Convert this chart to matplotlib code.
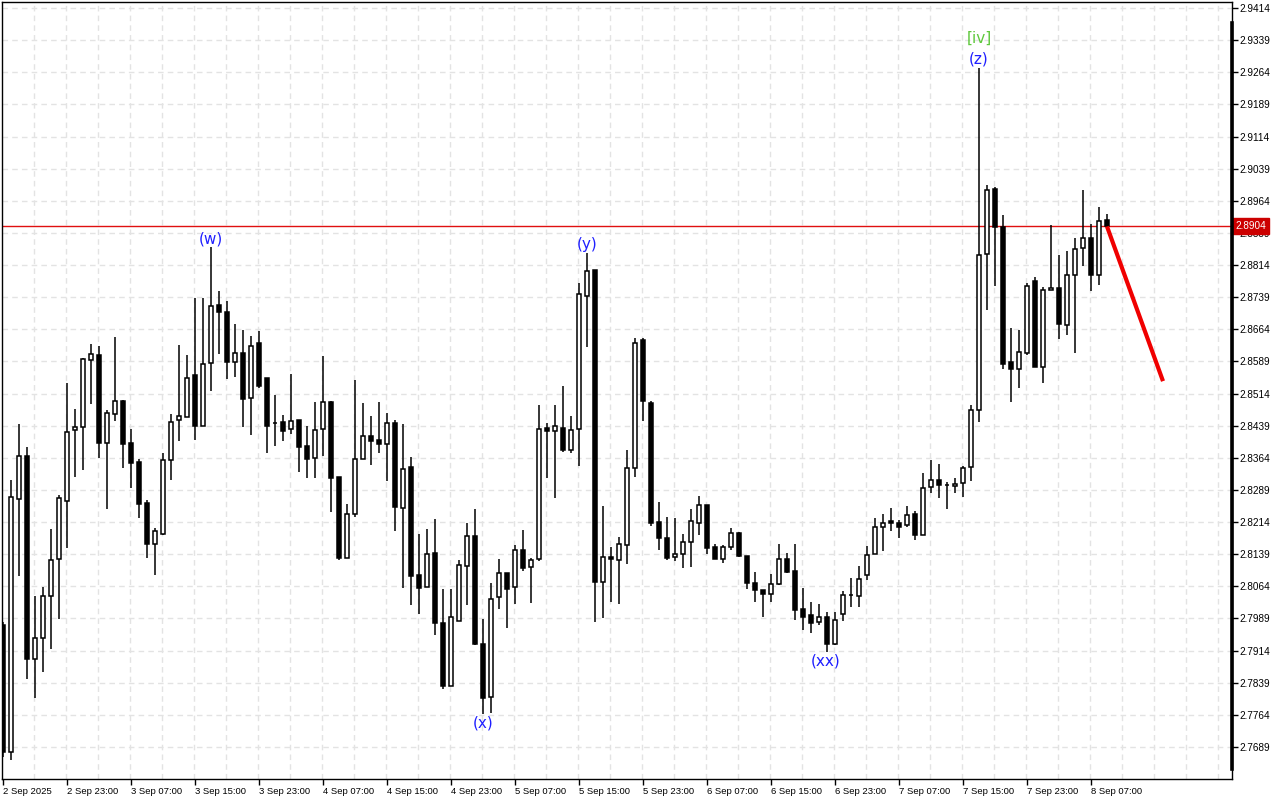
import matplotlib
matplotlib.use("Agg")
import matplotlib.pyplot as plt
from matplotlib.lines import Line2D
import numpy as np

# ---------------- data ----------------
opens = [2.7974, 2.7678, 2.8269, 2.8368, 2.7894, 2.7943, 2.8041, 2.8127, 2.8263, 2.8428,
         2.8435, 2.8592, 2.8604, 2.8399, 2.8466, 2.8497, 2.8398, 2.8354, 2.8258, 2.8164,
         2.8187, 2.8358, 2.8452, 2.8460, 2.8557, 2.8439, 2.8585, 2.8721, 2.8704, 2.8587,
         2.8609, 2.8503, 2.8632, 2.8550, 2.8446, 2.8447, 2.8431, 2.8452, 2.8391, 2.8363,
         2.8431, 2.8494, 2.8319, 2.8131, 2.8232, 2.8361, 2.8415, 2.8406, 2.8397, 2.8445,
         2.8246, 2.8342, 2.8090, 2.8062, 2.8142, 2.7978, 2.7831, 2.7984, 2.8111, 2.8182,
         2.7930, 2.7806, 2.8039, 2.8094, 2.8062, 2.8148, 2.8109, 2.8127, 2.8433, 2.8426,
         2.8433, 2.8382, 2.8431, 2.8741, 2.8802, 2.8074, 2.8132, 2.8126, 2.8160, 2.8340,
         2.8639, 2.8492, 2.8214, 2.8178, 2.8132, 2.8139, 2.8167, 2.8213, 2.8253, 2.8157,
         2.8127, 2.8157, 2.8188, 2.8134, 2.8071, 2.8055, 2.8045, 2.8069, 2.8127, 2.8099,
         2.8010, 2.7996, 2.7980, 2.7992, 2.7929, 2.8000, 2.8043, 2.8042, 2.8091, 2.8140,
         2.8203, 2.8217, 2.8213, 2.8207, 2.8232, 2.8185, 2.8296, 2.8312, 2.8300, 2.8298,
         2.8305, 2.8342, 2.8475, 2.8839, 2.8991, 2.8903, 2.8587, 2.8571, 2.8609, 2.8777,
         2.8575, 2.8755, 2.8760, 2.8675, 2.8791, 2.8853, 2.8876, 2.8791, 2.8918]
highs = [2.7981, 2.8312, 2.8443, 2.8390, 2.8041, 2.8062, 2.8198, 2.8277, 2.8539, 2.8478,
         2.8597, 2.8630, 2.8625, 2.8476, 2.8647, 2.8499, 2.8431, 2.8361, 2.8265, 2.8200,
         2.8375, 2.8466, 2.8627, 2.8604, 2.8737, 2.8738, 2.8855, 2.8753, 2.8730, 2.8676,
         2.8662, 2.8648, 2.8660, 2.8550, 2.8511, 2.8464, 2.8560, 2.8452, 2.8439, 2.8494,
         2.8602, 2.8497, 2.8319, 2.8256, 2.8546, 2.8492, 2.8462, 2.8494, 2.8469, 2.8452,
         2.8443, 2.8365, 2.8186, 2.8198, 2.8221, 2.8057, 2.8058, 2.8126, 2.8213, 2.8245,
         2.7988, 2.8071, 2.8128, 2.8094, 2.8160, 2.8196, 2.8131, 2.8487, 2.8445, 2.8487,
         2.8532, 2.8462, 2.8771, 2.8841, 2.8802, 2.8252, 2.8155, 2.8179, 2.8382, 2.8644,
         2.8644, 2.8497, 2.8261, 2.8226, 2.8223, 2.8186, 2.8245, 2.8275, 2.8253, 2.8164,
         2.8160, 2.8200, 2.8192, 2.8134, 2.8097, 2.8055, 2.8092, 2.8164, 2.8141, 2.8162,
         2.8059, 2.8027, 2.8022, 2.8005, 2.8003, 2.8052, 2.8083, 2.8112, 2.8159, 2.8223,
         2.8232, 2.8247, 2.8220, 2.8251, 2.8239, 2.8329, 2.8359, 2.8350, 2.8308, 2.8316,
         2.8346, 2.8487, 2.9275, 2.9002, 2.8997, 2.8930, 2.8667, 2.8662, 2.8771, 2.8786,
         2.8763, 2.8908, 2.8837, 2.8847, 2.8877, 2.8989, 2.8910, 2.8950, 2.8934]
lows = [2.7666, 2.7659, 2.8087, 2.7848, 2.7804, 2.7865, 2.7918, 2.7988, 2.8154, 2.8320,
        2.8336, 2.8490, 2.8364, 2.8245, 2.8451, 2.8341, 2.8293, 2.8223, 2.8131, 2.8090,
        2.8184, 2.8312, 2.8404, 2.8460, 2.8406, 2.8439, 2.8520, 2.8607, 2.8549, 2.8553,
        2.8436, 2.8418, 2.8527, 2.8376, 2.8391, 2.8403, 2.8420, 2.8330, 2.8318, 2.8316,
        2.8368, 2.8238, 2.8126, 2.8130, 2.8226, 2.8361, 2.8348, 2.8376, 2.8310, 2.8194,
        2.8061, 2.8021, 2.8000, 2.8062, 2.7950, 2.7824, 2.7831, 2.7984, 2.8020, 2.7926,
        2.7765, 2.7769, 2.8010, 2.7966, 2.8022, 2.8099, 2.8026, 2.8122, 2.8316, 2.8271,
        2.8377, 2.8375, 2.8346, 2.8622, 2.7981, 2.7991, 2.8028, 2.8022, 2.8115, 2.8319,
        2.8451, 2.8206, 2.8150, 2.8125, 2.8122, 2.8106, 2.8110, 2.8184, 2.8139, 2.8127,
        2.8119, 2.8149, 2.8133, 2.8057, 2.8027, 2.7993, 2.8028, 2.8066, 2.8094, 2.7985,
        2.7961, 2.7954, 2.7974, 2.7910, 2.7927, 2.7982, 2.8015, 2.8015, 2.8078, 2.8140,
        2.8146, 2.8193, 2.8176, 2.8203, 2.8173, 2.8185, 2.8282, 2.8270, 2.8244, 2.8282,
        2.8272, 2.8310, 2.8447, 2.8710, 2.8765, 2.8571, 2.8495, 2.8528, 2.8603, 2.8577,
        2.8539, 2.8755, 2.8642, 2.8651, 2.8609, 2.8812, 2.8754, 2.8768, 2.8904]
closes = [2.7677, 2.8272, 2.8368, 2.7894, 2.7943, 2.8041, 2.8126, 2.8270, 2.8424, 2.8435,
          2.8594, 2.8606, 2.8399, 2.8468, 2.8497, 2.8397, 2.8353, 2.8257, 2.8164, 2.8193,
          2.8358, 2.8448, 2.8462, 2.8551, 2.8439, 2.8582, 2.8718, 2.8705, 2.8587, 2.8609,
          2.8502, 2.8626, 2.8532, 2.8439, 2.8445, 2.8427, 2.8449, 2.8390, 2.8362, 2.8428,
          2.8494, 2.8318, 2.8131, 2.8232, 2.8361, 2.8414, 2.8404, 2.8397, 2.8445, 2.8249,
          2.8337, 2.8089, 2.8059, 2.8139, 2.7978, 2.7831, 2.7992, 2.8113, 2.8182, 2.7929,
          2.7803, 2.8035, 2.8094, 2.8057, 2.8150, 2.8106, 2.8125, 2.8431, 2.8426, 2.8438,
          2.8382, 2.8428, 2.8746, 2.8801, 2.8073, 2.8132, 2.8127, 2.8164, 2.8340, 2.8631,
          2.8496, 2.8213, 2.8178, 2.8131, 2.8139, 2.8167, 2.8216, 2.8255, 2.8154, 2.8127,
          2.8157, 2.8188, 2.8136, 2.8071, 2.8055, 2.8045, 2.8069, 2.8127, 2.8098, 2.8008,
          2.7992, 2.7979, 2.7992, 2.7929, 2.7985, 2.8044, 2.8043, 2.8082, 2.8138, 2.8202,
          2.8213, 2.8213, 2.8203, 2.8231, 2.8185, 2.8294, 2.8312, 2.8300, 2.8300, 2.8304,
          2.8341, 2.8475, 2.8838, 2.8990, 2.8902, 2.8584, 2.8571, 2.8610, 2.8765, 2.8577,
          2.8755, 2.8760, 2.8676, 2.8790, 2.8851, 2.8876, 2.8791, 2.8916, 2.8904]

date_labels = ["2 Sep 2025", "2 Sep 23:00", "3 Sep 07:00", "3 Sep 15:00", "3 Sep 23:00",
               "4 Sep 07:00", "4 Sep 15:00", "4 Sep 23:00", "5 Sep 07:00", "5 Sep 15:00",
               "5 Sep 23:00", "6 Sep 07:00", "6 Sep 15:00", "6 Sep 23:00", "7 Sep 07:00",
               "7 Sep 15:00", "7 Sep 23:00", "8 Sep 07:00"]
date_label_step = 8

price_ticks = [2.7689, 2.7764, 2.7839, 2.7914, 2.7989, 2.8064, 2.8139, 2.8214, 2.8289,
               2.8364, 2.8439, 2.8514, 2.8589, 2.8664, 2.8739, 2.8814, 2.8889, 2.8964,
               2.9039, 2.9114, 2.9189, 2.9264, 2.9339, 2.9414]
current_price = 2.8904

# projection arrow (bar index, price)
proj_x = [138, 145]
proj_y = [2.8904, 2.8543]

# wave labels: text, bar index, anchor price, placement, color
wave_labels = [
    ("(w)", 26, 2.8855, "above", "#1f1fff"),
    ("(x)", 60, 2.7765, "below", "#1f1fff"),
    ("(y)", 73, 2.8841, "above", "#1f1fff"),
    ("(xx)", 102.8, 2.7910, "below", "#1f1fff"),
    ("(z)", 122, 2.9275, "above", "#1f1fff"),
]
top_label = ("[iv]", 122, 2.9275, "#5ec83c")

# ---------------- figure ----------------
AXFONT = "Liberation Sans"
W, H = 1280, 800
fig = plt.figure(figsize=(W / 100, H / 100), dpi=100)
fig.patch.set_facecolor("white")
ax_left, ax_right, ax_top, ax_bot = 2, 1232, 2, 779
ax = fig.add_axes([ax_left / W, (H - ax_bot) / H, (ax_right - ax_left) / W, (ax_bot - ax_top) / H])

n = len(opens)
xs = np.arange(n)
o = np.array(opens); h = np.array(highs); l = np.array(lows); c = np.array(closes)

ax.set_xlim(-0.125, 153.625)
ax.set_ylim(2.76143, 2.94280)

# grid
for yv in price_ticks:
    ax.axhline(yv, color="#e3e3e3", lw=1, ls=(0, (4, 3)), zorder=0)
for k in range(1, 39):
    ax.axvline(4 * k - 0.1, color="#e3e3e3", lw=1, ls=(0, (4, 3)), zorder=0)

# wicks
ax.vlines(xs, l, h, color="black", lw=1.1, zorder=2)
# bodies
up = c >= o
bottoms = np.minimum(o, c)
heights = np.maximum(np.abs(c - o), 0.00012)
ax.bar(xs[up], heights[up], bottom=bottoms[up], width=0.5, color="white",
       edgecolor="black", linewidth=1.1, zorder=3)
ax.bar(xs[~up], heights[~up], bottom=bottoms[~up], width=0.5, color="black",
       edgecolor="black", linewidth=1.1, zorder=3)

# current price line
ax.axhline(current_price, color="#e01010", lw=1, zorder=1)

# projection
ax.plot(proj_x, proj_y, color="#f00000", lw=3, solid_capstyle="butt", zorder=5)

# wave labels
for txt, xi, yp, where, col in wave_labels:
    if where == "above":
        ax.annotate(txt, (xi, yp), xytext=(0, 1), textcoords="offset points",
                    ha="center", va="bottom", color=col, fontsize=11, zorder=6)
    else:
        ax.annotate(txt, (xi, yp), xytext=(0, -1), textcoords="offset points",
                    ha="center", va="top", color=col, fontsize=11, zorder=6)
ax.annotate(top_label[0], (top_label[1], top_label[2]), xytext=(0, 16), textcoords="offset points",
            ha="center", va="bottom", color=top_label[3], fontsize=11, zorder=6)

# axes styling
for s in ax.spines.values():
    s.set_color("black"); s.set_linewidth(1)
ax.yaxis.tick_right()
ax.set_yticks(price_ticks)
ax.set_yticklabels([f"{p:.4f}" for p in price_ticks], family=AXFONT)
ax.tick_params(axis="y", direction="out", length=4, width=1, pad=1, labelsize=7.2, colors="black")
xt = [i * date_label_step for i in range(len(date_labels))]
ax.set_xticks(xt)
ax.set_xticklabels(date_labels, family=AXFONT)
ax.tick_params(axis="x", direction="out", length=4, width=1, pad=1.5, labelsize=6.8, colors="black")
for lab in ax.get_xticklabels():
    lab.set_ha("left")

# price box
ax.annotate(f"{current_price:.4f}", (1.0, current_price), xycoords=("axes fraction", "data"),
            xytext=(2.5, 0), textcoords="offset points", ha="left", va="center",
            fontsize=7.2, family=AXFONT, color="white", zorder=10, annotation_clip=False,
            bbox=dict(boxstyle="square,pad=0.3", fc="#cc0000", ec="#cc0000"))

# thick right scale bar
fig.add_artist(Line2D([1231.5 / W, 1231.5 / W], [(H - 769) / H, (H - 23) / H],
                      color="black", lw=2.6, transform=fig.transFigure))

fig.savefig("out.png", dpi=100, facecolor="white")
